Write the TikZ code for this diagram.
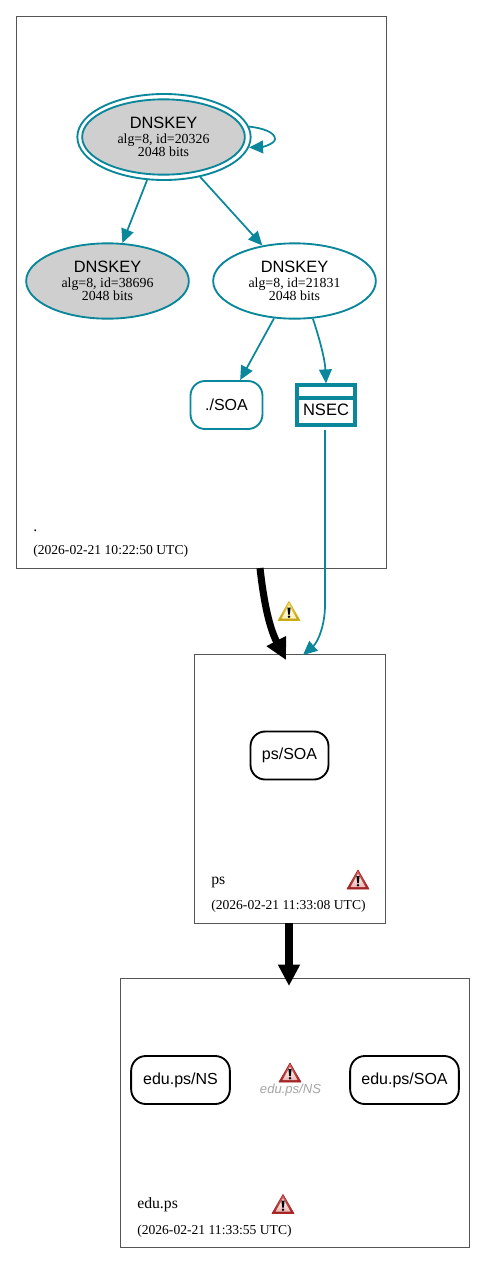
\documentclass[tikz,border=0pt]{standalone}
\usepackage{fontspec}
\setmainfont{Liberation Serif}
\newfontfamily\sansf{Liberation Sans}
\usetikzlibrary{arrows.meta,shapes.geometric}
\definecolor{teal}{HTML}{0A879A}
\definecolor{zoneline}{HTML}{555555}
\newcommand{\ks}[2]{\raisebox{1pt}{\sansf\fontsize{12.3}{12}\selectfont #1}\\[-2pt]{\fontsize{10.4}{10}\selectfont alg=8, id=#2}\\[-2pt]{\fontsize{10.4}{10}\selectfont 2048 bits}}
\tikzset{
 x=0.75pt,y=-0.75pt,
 zone/.style={draw=zoneline,line width=0.5pt,inner sep=0,fill=white},
 key/.style={ellipse,draw=teal,line width=1.4pt,minimum width=122pt,minimum height=56.5pt,inner sep=0,align=center},
 rec/.style={rectangle,rounded corners=11pt,draw=#1,line width=1.4pt,inner sep=0,font=\sansf\fontsize{12}{12}\selectfont},
 tarrow/.style={draw=teal,line width=1.3pt,-{Triangle[length=10.5pt,width=9.5pt]}},
 barrow/.style={draw=black,line width=5.3pt,-{Triangle[length=16pt,width=15.5pt]}},
 zlabel/.style={anchor=west,inner sep=0,font=\fontsize{11.8}{11}\selectfont},
 zstamp/.style={anchor=west,inner sep=0,font=\fontsize{10.2}{10}\selectfont},
 warnicon/.pic={
  \shade[top color=#1!70!white,bottom color=#1!75!black,line join=round,draw=#1!85!black,line width=0.5pt] (-11,9) -- (0,-10) -- (11,9) -- cycle;
  \shade[top color=white,bottom color=#1!35!white] (-7.5,7) -- (0,-6) -- (7.5,7) -- cycle;
  \fill[black] (-1.6,-4) -- (1.6,-4) -- (0.8,3) -- (-0.8,3) -- cycle;
  \fill[black] (0,5.2) circle (1.4);
 },
}
\definecolor{warny}{HTML}{F7D11E}
\definecolor{warnr}{HTML}{CC2B2B}
\begin{document}
\begin{tikzpicture}
\useasboundingbox (0,0) rectangle (485,1264);
% zones
\node[zone,minimum width=277.5pt,minimum height=414.25pt,anchor=north west] (rootz) at (16,16) {};
\node[zone,minimum width=143.25pt,minimum height=202.25pt,anchor=north west] (psz) at (194,653.7) {};
\node[zone,minimum width=262pt,minimum height=202pt,anchor=north west] (eduz) at (120,978) {};
% keys
\node[ellipse,draw=teal,line width=1.4pt,minimum width=130pt,minimum height=64.5pt,inner sep=0] (ksouter) at (164,137) {};
\node[key,fill=lightgray!75!white] (k1) at (163.5,137) {\ks{DNSKEY}{20326}};
\node[key,fill=lightgray!75!white] (k2) at (107.5,281) {\ks{DNSKEY}{38696}};
\node[key,fill=white] (k3) at (294.5,281) {\ks{DNSKEY}{21831}};
\node[rec=teal,minimum width=54pt,minimum height=36pt] (rsoa) at (226.5,405) {./SOA};
\node[rectangle,draw=teal,line width=2.4pt,minimum width=43.5pt,minimum height=30pt,inner sep=0] (nsec) at (326,405) {};
\node[inner sep=0,font=\sansf\fontsize{12.4}{12}\selectfont] (nsect) at (326,410) {NSEC};
\coordinate (nsecl) at (nsec.west |- 0,398);
\coordinate (nsecr) at (nsec.east |- 0,398);
\draw[draw=teal,line width=2.4pt] (nsecl) -- (nsecr);
\node[rec=black,minimum width=58.5pt,minimum height=36pt] (psoa) at (289.5,755.5) {ps/SOA};
\node[rec=black,minimum width=74pt,minimum height=36pt] (ens) at (180.5,1080) {edu.ps/NS};
\node[rec=black,minimum width=81.5pt,minimum height=36pt] (esoa) at (404.5,1080) {edu.ps/SOA};
\node[inner sep=0,text=gray!70!white,font=\sansf\itshape\fontsize{9.8}{10}\selectfont] (ghost) at (290.5,1090.5) {edu.ps/NS};
% labels
\node[zlabel] (l1) at (33,531) {.};
\node[zstamp] (t1) at (33,551) {(2026-02-21 10:22:50 UTC)};
\node[zlabel] (l2) at (211,882) {ps};
\node[zstamp] (t2) at (211,906) {(2026-02-21 11:33:08 UTC)};
\node[zlabel] (l3) at (137,1205) {edu.ps};
\node[zstamp] (t3) at (137,1231) {(2026-02-21 11:33:55 UTC)};
% warnings
\pic at (289,611.5) {warnicon=warny};
\pic at (358,880) {warnicon=warnr};
\pic at (290,1073) {warnicon=warnr};
\pic at (283,1204.5) {warnicon=warnr};
% key edges
\draw[tarrow] (ksouter) -- (k2);
\draw[tarrow] (ksouter) -- (k3);
\draw[tarrow] (k3) -- (rsoa);
\draw[tarrow] (k3.-64) .. controls (320,340) and (325,360) .. (nsec.north);
\draw[tarrow] (ksouter.7) .. controls (262,128) and (275,132) .. (275,139) .. controls (275,144) and (262,147) .. (ksouter.-7);
% zone edges
\coordinate (rz1) at (260,568);
\coordinate (pz1) at (286,660);
\coordinate (pz2) at (289,923);
\coordinate (ez1) at (289,986);
\coordinate (nz1) at (303,655);
\coordinate (ns1) at (325,430);
\coordinate (ns2) at (325,605);
\draw[barrow] (rz1) .. controls (263,595) and (268,625) .. (pz1);
\draw[barrow] (pz2) -- (ez1);
\draw[tarrow] (ns1) -- (ns2) .. controls (325,625) and (318,642) .. (nz1);
\end{tikzpicture}
\end{document}
